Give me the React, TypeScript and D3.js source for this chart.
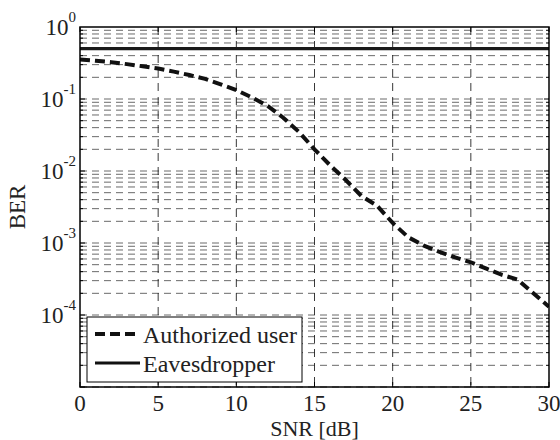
import React from "react";
import * as d3 from "d3";

const snr = [0,1,2,3,4,5,6,7,8,9,10,11,12,13,14,15,16,17,18,19,20,21,22,23,24,25,26,27,28,29,30];
const berAuthorized = [0.355,0.34,0.325,0.305,0.285,0.265,0.24,0.215,0.19,0.16,0.133,0.105,0.08,0.055,0.035,0.02,0.012,0.0075,0.0045,0.0033,0.0019,0.0012,0.00092,0.00075,0.00063,0.00054,0.00044,0.00036,0.00031,0.0002,0.00013];
const berEavesdropper = snr.map(() => 0.5);
const xTicks = [0,5,10,15,20,25,30];
const yExps = [0,-1,-2,-3,-4];
const legendLabels = ["Authorized user", "Eavesdropper"];

const W = 560, H = 440;
const m = { left: 80, right: 11, top: 27, bottom: 53 };
const font = "'Liberation Serif', 'Times New Roman', serif";

export default function App() {
  const x = d3.scaleLinear().domain([0, 30]).range([m.left, W - m.right]);
  const y = d3.scaleLog().domain([1e-5, 1]).range([H - m.bottom, m.top]);
  const minorVals: number[] = [];
  for (let e = -5; e < 0; e++) for (let k = 1; k <= 9; k++) minorVals.push(k * Math.pow(10, e));
  const line = d3.line<number>().x((_, i) => x(snr[i])).y(d => y(d));
  const x0 = m.left, x1 = W - m.right, y0 = m.top, y1 = H - m.bottom;
  return (
    <svg width={W} height={H} style={{ position: "absolute", left: 0, top: 0, background: "#fff" }}>
      <defs>
        <clipPath id="plot"><rect x={x0} y={y0} width={x1 - x0} height={y1 - y0} /></clipPath>
      </defs>
      {minorVals.map((v, i) => (
        <line key={"h" + i} x1={x0} x2={x1} y1={y(v)} y2={y(v)} stroke="#6a6a6a" strokeWidth={1} strokeDasharray="7,5" />
      ))}
      {xTicks.slice(1, -1).map(t => (
        <line key={"v" + t} x1={x(t)} x2={x(t)} y1={y0} y2={y1} stroke="#222" strokeWidth={0.9} strokeDasharray="8,6" />
      ))}
      {minorVals.map((v, i) => {
        const len = Math.abs(Math.log10(v) - Math.round(Math.log10(v))) < 1e-9 ? 5 : 3;
        return (
          <g key={"yt" + i}>
            <line x1={x0} x2={x0 + len} y1={y(v)} y2={y(v)} stroke="#000" strokeWidth={1} />
            <line x1={x1} x2={x1 - len} y1={y(v)} y2={y(v)} stroke="#000" strokeWidth={1} />
          </g>
        );
      })}
      {xTicks.map(t => (
        <g key={"xt" + t}>
          <line x1={x(t)} x2={x(t)} y1={y1} y2={y1 - 5} stroke="#000" strokeWidth={1} />
          <line x1={x(t)} x2={x(t)} y1={y0} y2={y0 + 5} stroke="#000" strokeWidth={1} />
        </g>
      ))}
      <g clipPath="url(#plot)">
        <path d={line(berEavesdropper) || ""} fill="none" stroke="#1a1a1a" strokeWidth={3.2} />
        <path d={line(berAuthorized) || ""} fill="none" stroke="#111" strokeWidth={4} strokeDasharray="10,5" />
      </g>
      <rect x={x0} y={y0} width={x1 - x0} height={y1 - y0} fill="none" stroke="#000" strokeWidth={1.5} />
      {xTicks.map(t => (
        <text key={"xl" + t} x={x(t)} y={y1 + 24} textAnchor="middle" fontFamily={font} fontSize={23} fill="#222">{t}</text>
      ))}
      {yExps.map(e => (
        <text key={"yl" + e} x={76} y={y(Math.pow(10, e)) + 8} textAnchor="end" fontFamily={font} fontSize={23} fill="#222">
          10<tspan dy={-13} fontSize={15}>{e}</tspan>
        </text>
      ))}
      <text x={(x0 + x1) / 2} y={436} textAnchor="middle" fontFamily={font} fontSize={22} fill="#222">SNR [dB]</text>
      <text transform={`translate(25,${(y0 + y1) / 2}) rotate(-90)`} textAnchor="middle" fontFamily={font} fontSize={23} fill="#222">BER</text>
      <g>
        <rect x={87} y={317} width={215} height={65} fill="#fff" stroke="#000" strokeWidth={1} />
        <line x1={95} x2={140} y1={334} y2={334} stroke="#111" strokeWidth={4} strokeDasharray="10,5" />
        <line x1={95} x2={140} y1={363} y2={363} stroke="#111" strokeWidth={3.2} />
        <text x={143} y={343} fontFamily={font} fontSize={24} fill="#222">{legendLabels[0]}</text>
        <text x={143} y={372} fontFamily={font} fontSize={24} fill="#222">{legendLabels[1]}</text>
      </g>
    </svg>
  );
}
